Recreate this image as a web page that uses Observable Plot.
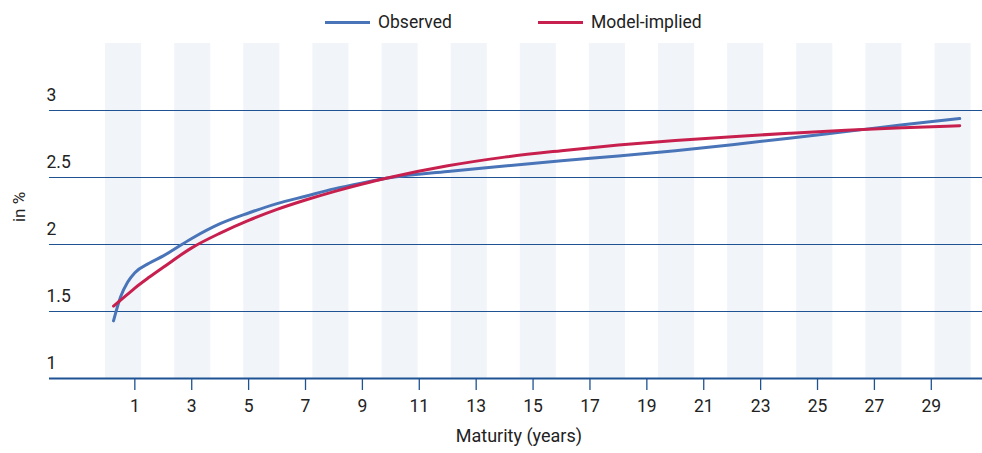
<!DOCTYPE html>
<html>
<head>
<meta charset="utf-8">
<script src="https://cdn.jsdelivr.net/npm/d3@7"></script>
<script src="https://cdn.jsdelivr.net/npm/@observablehq/plot@0.6"></script>
<style>
  body { margin: 0; background: #fff; font-family: Roboto, "Noto Sans", sans-serif; }
  #legend { height: 40px; width: 982px; position: relative; font-size: 17.5px; color: #222; }
  .item { position: absolute; top: 10px; display: flex; align-items: center; height: 24px; }
  .sw { width: 45px; height: 3px; margin-right: 8px; }
</style>
</head>
<body>
<div id="legend"></div>
<div id="chart"></div>
<script>
const maturities = [0.25, 0.5, 0.75, 1, 1.5, 2, 3, 4, 5, 6, 7, 8, 9, 10, 12, 14, 16, 18, 20, 22, 24, 26, 28, 30];
const observed   = [1.43, 1.61, 1.72, 1.79, 1.86, 1.915, 2.045, 2.155, 2.235, 2.305, 2.36, 2.415, 2.46, 2.50, 2.545, 2.585, 2.625, 2.66, 2.70, 2.745, 2.793, 2.843, 2.893, 2.94];
const modelImplied = [1.54, 1.585, 1.63, 1.675, 1.755, 1.83, 1.975, 2.085, 2.18, 2.262, 2.332, 2.395, 2.452, 2.502, 2.587, 2.652, 2.70, 2.742, 2.776, 2.805, 2.83, 2.853, 2.871, 2.886];
const seriesNames = ["Observed", "Model-implied"];
const seriesColors = ["#4a74b8", "#c8204e"];
const xTicks = [1, 3, 5, 7, 9, 11, 13, 15, 17, 19, 21, 23, 25, 27, 29];
const yTicks = [1, 1.5, 2, 2.5, 3];
const yTickLabels = ["1", "1.5", "2", "2.5", "3"];

const data = [];
maturities.forEach((m, i) => {
  data.push({maturity: m, value: observed[i], series: seriesNames[0]});
  data.push({maturity: m, value: modelImplied[i], series: seriesNames[1]});
});
const bands = d3.range(13).map(i => ({x1: i * 2.43 - 0.03, x2: i * 2.43 + 1.24}));

// legend
const legend = document.getElementById("legend");
const lefts = [325, 538];
seriesNames.forEach((n, i) => {
  const d = document.createElement("div");
  d.className = "item";
  d.style.left = lefts[i] + "px";
  d.innerHTML = `<span class="sw" style="background:${seriesColors[i]}"></span><span>${n}</span>`;
  legend.appendChild(d);
});

const gridColor = "#1f5293";
const chart = Plot.plot({
  width: 982,
  height: 413,
  marginLeft: 49,
  marginRight: 0,
  marginTop: 3,
  marginBottom: 75,
  style: {fontFamily: "Roboto, 'Noto Sans', sans-serif", fontSize: "17px", color: "#222", background: "#fff"},
  x: {domain: [-2, 30.8], axis: null},
  y: {domain: [1, 3.5], axis: null},
  color: {domain: seriesNames, range: seriesColors},
  marks: [
    Plot.rect(bands, {x1: "x1", x2: "x2", fill: "#f1f5f9"}),
    Plot.ruleY(yTicks.slice(1), {stroke: gridColor, strokeWidth: 1.2}),
    Plot.ruleY([1], {stroke: gridColor, strokeWidth: 2}),
    Plot.line(data, {x: "maturity", y: "value", z: "series", stroke: "series", strokeWidth: 3, curve: "monotone-x"}),
    Plot.axisX(xTicks, {tickSize: 12, tickPadding: 9, stroke: gridColor, strokeWidth: 1.3, label: null, fontSize: 17.5, fill: "#222"}),
    Plot.text(yTicks, {x: -2, y: d => d, text: (d, i) => yTickLabels[i], textAnchor: "start", dx: -3, dy: -15, fontSize: 17.5, fill: "#222"}),
    Plot.text(["in %"], {frameAnchor: "left", textAnchor: "middle", dx: -30, dy: -4, rotate: -90, fontSize: 17, fill: "#222"}),
    Plot.text(["Maturity (years)"], {x: 14.5, frameAnchor: "bottom", dy: 63, fontSize: 18, fill: "#222"})
  ]
});
document.getElementById("chart").appendChild(chart);
</script>
</body>
</html>
